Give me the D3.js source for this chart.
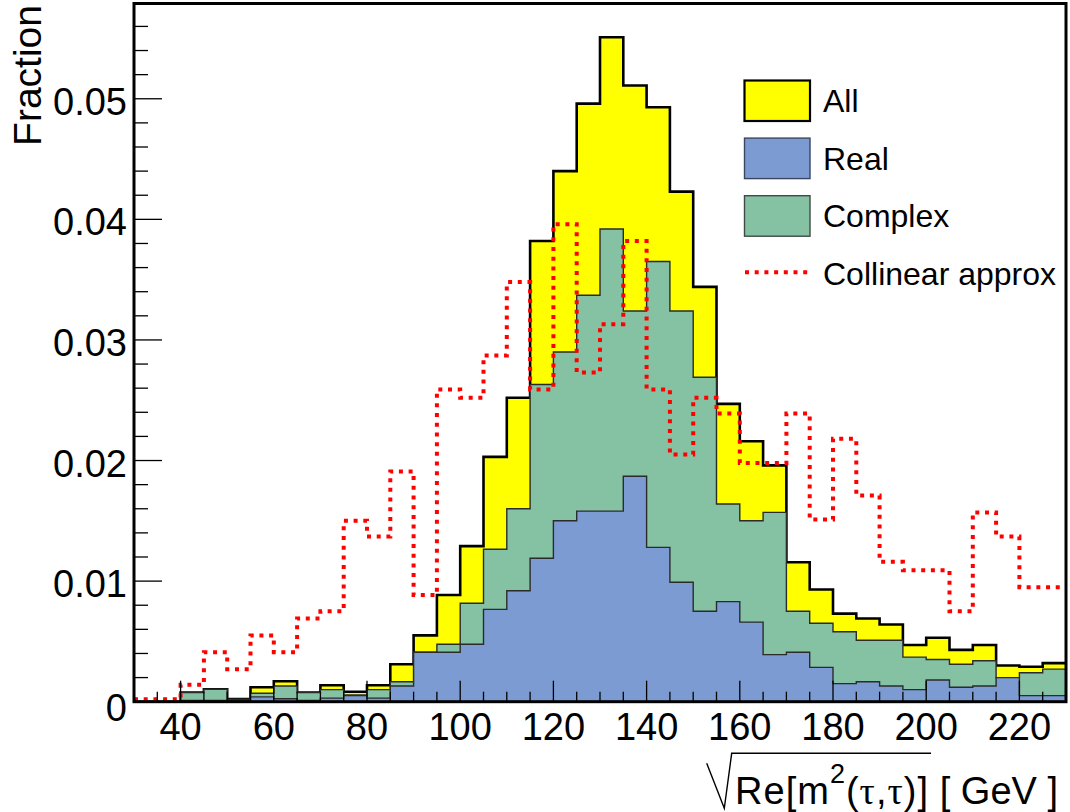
<!DOCTYPE html>
<html>
<head>
<meta charset="utf-8">
<script src="https://cdn.jsdelivr.net/npm/d3@7"></script>
<style>
  html, body { margin: 0; padding: 0; background: #fff; }
  svg { display: block; font-family: "Liberation Sans", Arial, sans-serif; }
</style>
</head>
<body>
<svg id="chart" width="1070" height="812"></svg>
<script>
// bin edges of the histograms (GeV)
var binEdges = [30, 35, 40, 45, 50, 55, 60, 65, 70, 75, 80, 85, 90, 95, 100, 105, 110, 115, 120, 125,
  130, 135, 140, 145, 150, 155, 160, 165, 170, 175, 180, 185, 190, 195, 200, 205, 210, 215, 220, 225, 230];

var allFrac = [0, 0, 0.00075, 0.00103, 0.00022, 0.0012, 0.0017, 0.00075, 0.00136, 0.00083,
  0.00136, 0.0031, 0.0055, 0.00885, 0.0129, 0.0203, 0.0252, 0.0382, 0.0440, 0.0496,
  0.0551, 0.0511, 0.0493, 0.0423, 0.0344, 0.0247, 0.0216, 0.0196, 0.01156, 0.0093,
  0.0073, 0.0069, 0.0064, 0.0047, 0.0053, 0.0043, 0.0047, 0.0030, 0.0029, 0.0032];

var complexFrac = [0, 0, 0.00075, 0.00103, 0.0002, 0.0007, 0.0013, 0.00075, 0.001, 0.00055,
  0.001, 0.00166, 0.0041, 0.00476, 0.00816, 0.01264, 0.0160, 0.0263, 0.0290, 0.0337,
  0.0392, 0.0324, 0.0365, 0.0324, 0.0269, 0.0164, 0.0150, 0.0157, 0.0075, 0.0065,
  0.0058, 0.0051, 0.0051, 0.0037, 0.0035, 0.0031, 0.0034, 0.0020, 0.0024, 0.0027];

var realFrac = [0, 0, 0.0001, 0.0001, 0.0001, 0.0004, 0.00025, 0.0001, 0.0003, 0.0005,
  0.0003, 0.0013, 0.0041, 0.0041, 0.00476, 0.00766, 0.0092, 0.0119, 0.0150, 0.0158,
  0.0158, 0.0187, 0.0128, 0.0099, 0.0075, 0.0083, 0.0066, 0.0039, 0.0041, 0.00285,
  0.0015, 0.00166, 0.0013, 0.001, 0.0018, 0.0012, 0.0013, 0.0020, 0.0005, 0.0005];

var collinearFrac = [0.0002, 0.0002, 0.0014, 0.0041, 0.0027, 0.0055, 0.0041, 0.0069, 0.0075, 0.0150,
  0.0137, 0.0191, 0.00885, 0.0259, 0.0252, 0.0287, 0.0348, 0.0259, 0.0396, 0.0273,
  0.0313, 0.0382, 0.0259, 0.0205, 0.0252, 0.0239, 0.0198, 0.0198, 0.0239, 0.0151,
  0.0218, 0.0171, 0.0116, 0.0109, 0.0109, 0.0075, 0.0157, 0.0137, 0.0095, 0.0095];

var xTickValues = [40, 60, 80, 100, 120, 140, 160, 180, 200, 220];
var yTickValues = [0, 0.01, 0.02, 0.03, 0.04, 0.05];

var legendNames = ['All', 'Real', 'Complex', 'Collinear approx'];

var colors = {
  all: '#ffff00',
  real: '#7b9bd2',
  complex: '#85c1a3',
  collinear: '#ff0000'
};

var frame = { left: 134, right: 1066, top: 3.5, bottom: 701.7 };

var svg = d3.select('#chart');

var x = d3.scaleLinear().domain([30, 230]).range([frame.left, frame.right]);
var y = d3.scaleLinear().domain([0, 0.0579]).range([frame.bottom, frame.top]);

svg.append('defs').append('clipPath').attr('id', 'plot-clip')
  .append('rect')
  .attr('x', frame.left)
  .attr('y', frame.top)
  .attr('width', frame.right - frame.left)
  .attr('height', frame.bottom - frame.top);

function stepPoints(values) {
  var pts = values.map(function(v, i) {
    return { x: binEdges[i], v: v };
  });
  pts.push({ x: binEdges[values.length], v: values[values.length - 1] });
  return pts;
}

var stepArea = d3.area()
  .curve(d3.curveStepAfter)
  .x(function(d) { return x(d.x); })
  .y0(y(0))
  .y1(function(d) { return y(d.v); });

var stepLine = d3.line()
  .curve(d3.curveStepAfter)
  .x(function(d) { return x(d.x); })
  .y(function(d) { return y(d.v); });

var plot = svg.append('g').attr('clip-path', 'url(#plot-clip)');

function drawHist(values, fill, stroke, width) {
  var pts = stepPoints(values);
  plot.append('path')
    .attr('d', stepArea(pts))
    .attr('fill', fill);
  plot.append('path')
    .attr('d', stepLine(pts))
    .attr('fill', 'none')
    .attr('stroke', stroke)
    .attr('stroke-width', width);
}

drawHist(allFrac, colors.all, '#000', 2.6);
drawHist(complexFrac, colors.complex, '#2b2b2b', 1.4);
drawHist(realFrac, colors.real, '#2b2b2b', 1.4);

plot.append('path')
  .attr('d', stepLine(stepPoints(collinearFrac)))
  .attr('fill', 'none')
  .attr('stroke', colors.collinear)
  .attr('stroke-width', 4)
  .attr('stroke-dasharray', '4,5.7');

// ticks
var yMinor = d3.range(0, 0.0579, 0.002);
svg.append('g').selectAll('line').data(yMinor).enter().append('line')
  .attr('x1', frame.left)
  .attr('x2', function(d, i) { return frame.left + (i % 5 === 0 ? 28 : 14); })
  .attr('y1', function(d) { return y(d); })
  .attr('y2', function(d) { return y(d); })
  .attr('stroke', '#000')
  .attr('stroke-width', 1.3);

var xMinor = d3.range(35, 230, 5);
svg.append('g').selectAll('line').data(xMinor).enter().append('line')
  .attr('x1', function(d) { return x(d); })
  .attr('x2', function(d) { return x(d); })
  .attr('y1', frame.bottom)
  .attr('y2', function(d) { return frame.bottom - (d % 20 === 0 ? 21 : 10); })
  .attr('stroke', '#000')
  .attr('stroke-width', 1.3);

svg.append('rect')
  .attr('x', frame.left)
  .attr('y', frame.top)
  .attr('width', frame.right - frame.left)
  .attr('height', frame.bottom - frame.top)
  .attr('fill', 'none')
  .attr('stroke', '#000')
  .attr('stroke-width', 3);

// tick labels
svg.append('g').selectAll('text').data(yTickValues).enter().append('text')
  .attr('x', 127)
  .attr('y', function(d) { return y(d) + (d === 0 ? 19 : 16); })
  .attr('text-anchor', 'end')
  .style('font-size', '38px')
  .text(function(d) { return d === 0 ? '0' : d3.format('.2f')(d); });

svg.append('g').selectAll('text').data(xTickValues).enter().append('text')
  .attr('x', function(d) { return x(d); })
  .attr('y', 740)
  .attr('text-anchor', 'middle')
  .style('font-size', '38px')
  .text(function(d) { return d; });

// axis titles
svg.append('text')
  .attr('transform', 'translate(40.5,5) rotate(-90)')
  .attr('text-anchor', 'end')
  .style('font-size', '39px')
  .text('Fraction');

var xTitle = svg.append('text')
  .attr('x', 735)
  .attr('y', 804)
  .attr('textLength', 193)
  .attr('lengthAdjust', 'spacing')
  .style('font-size', '38px');
xTitle.append('tspan').text('Re[m');
xTitle.append('tspan').attr('dy', -21).style('font-size', '27px').text('2');
xTitle.append('tspan').attr('dy', 21).text('(');
xTitle.append('tspan').style('font-family', '"Liberation Serif", serif').text('\u03c4');
xTitle.append('tspan').text(',');
xTitle.append('tspan').style('font-family', '"Liberation Serif", serif').text('\u03c4');
xTitle.append('tspan').text(')]');
var rootEnd = 735 + 193 + 3;

svg.append('path')
  .attr('d', 'M706.7,763.3 L724.3,808.3 L731.7,753.3 H' + rootEnd)
  .attr('fill', 'none')
  .attr('stroke', '#000')
  .attr('stroke-width', 1.4);

svg.append('text')
  .attr('x', 1058)
  .attr('y', 804)
  .attr('text-anchor', 'end')
  .style('font-size', '38px')
  .text('[ GeV ]');

// legend
var legendRows = [
  { name: legendNames[0], fill: colors.all, stroke: '#000', sw: 2.2 },
  { name: legendNames[1], fill: colors.real, stroke: '#3a4660', sw: 1.4 },
  { name: legendNames[2], fill: colors.complex, stroke: '#3f4a44', sw: 1.4 },
  { name: legendNames[3], line: true }
];

var legend = svg.append('g');
legendRows.forEach(function(row, i) {
  var cy = 100.5 + i * 57.6;
  if (row.line) {
    legend.append('line')
      .attr('x1', 745)
      .attr('x2', 808)
      .attr('y1', cy - 1)
      .attr('y2', cy - 1)
      .attr('stroke', colors.collinear)
      .attr('stroke-width', 4)
      .attr('stroke-dasharray', '4,5.7');
  } else {
    legend.append('rect')
      .attr('x', 744.5)
      .attr('y', cy - 20)
      .attr('width', 65.5)
      .attr('height', 40.5)
      .attr('fill', row.fill)
      .attr('stroke', row.stroke)
      .attr('stroke-width', row.sw);
  }
  legend.append('text')
    .attr('x', 823)
    .attr('y', cy + 11.5)
    .style('font-size', '32px')
    .text(row.name);
});
</script>
</body>
</html>
